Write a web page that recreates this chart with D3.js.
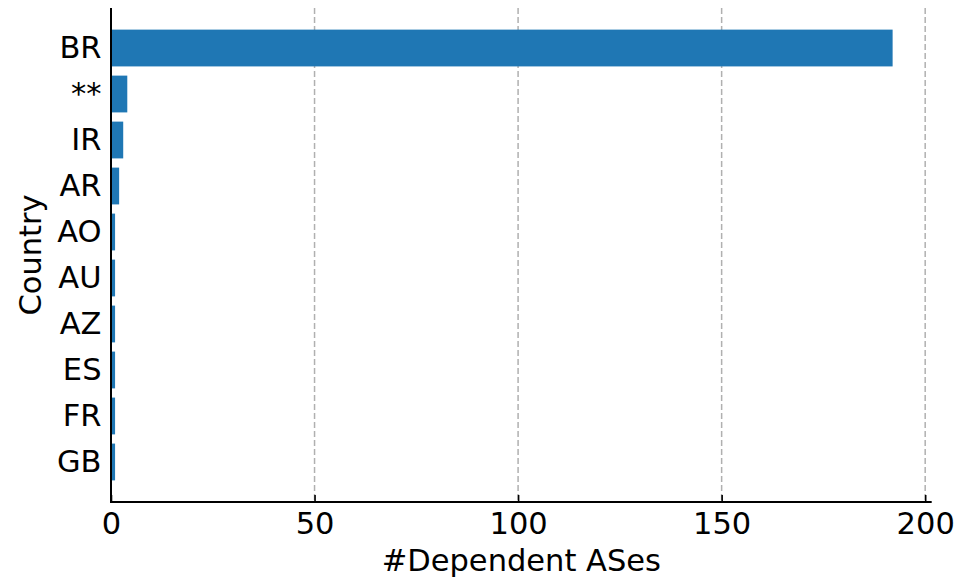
<!DOCTYPE html>
<html>
<head>
<meta charset="utf-8">
<script src="https://cdn.jsdelivr.net/npm/d3@7"></script>
<style>
  html, body { margin: 0; padding: 0; background: #fff; }
  svg text { font-family: "DejaVu Sans", sans-serif; fill: #000; }
</style>
</head>
<body>
<svg id="chart" width="975" height="579"></svg>
<script>
// Countries ranked by number of dependent ASes
const countries = ["BR", "**", "IR", "AR", "AO", "AU", "AZ", "ES", "FR", "GB"];
const dependentASes = [192, 4, 3, 2, 1, 1, 1, 1, 1, 1];
const xTicks = [0, 50, 100, 150, 200];
const xLabel = "#Dependent ASes";
const yLabel = "Country";

const svg = d3.select("#chart");
const plot = { left: 111, right: 931.7, top: 8, bottom: 502 };
const fontSize = 30.5;

const x = d3.scaleLinear()
  .domain([0, d3.max(dependentASes) * 1.05])
  .range([plot.left, plot.right]);

const y = d3.scaleBand()
  .domain(countries)
  .range([plot.top, plot.bottom])
  .paddingInner(0.2)
  .paddingOuter(0.47);

// dashed vertical grid lines
svg.append("g")
  .selectAll("line")
  .data(xTicks.filter(d => d > 0))
  .join("line")
  .attr("x1", d => x(d)).attr("x2", d => x(d))
  .attr("y1", plot.top).attr("y2", plot.bottom)
  .attr("stroke", "#b0b0b0")
  .attr("stroke-width", 1.5)
  .attr("stroke-dasharray", "6,3");

// bars
svg.append("g")
  .selectAll("rect")
  .data(countries.map((c, i) => ({ c, v: dependentASes[i] })))
  .join("rect")
  .attr("x", x(0))
  .attr("y", d => y(d.c))
  .attr("width", d => x(d.v) - x(0))
  .attr("height", y.bandwidth())
  .attr("fill", "#1f77b4");

// x axis: inward ticks
const xAxis = d3.axisBottom(x)
  .tickValues(xTicks)
  .tickFormat(d3.format("d"))
  .tickSizeInner(-7)
  .tickSizeOuter(0)
  .tickPadding(10);

const gx = svg.append("g")
  .attr("transform", `translate(0,${plot.bottom})`)
  .call(xAxis);
gx.select(".domain").remove();
gx.selectAll(".tick line").attr("stroke", "#000").attr("stroke-width", 1.6);
gx.selectAll(".tick text")
  .attr("font-size", fontSize)
  .attr("font-family", "DejaVu Sans")
  .attr("fill", "#000");

// y axis: labels only
const yAxis = d3.axisLeft(y).tickSize(0).tickPadding(9.5);
const gy = svg.append("g")
  .attr("transform", `translate(${plot.left},0)`)
  .call(yAxis);
gy.select(".domain").remove();
gy.selectAll(".tick text")
  .attr("font-size", fontSize)
  .attr("font-family", "DejaVu Sans")
  .attr("fill", "#000");

// spines (left and bottom)
svg.append("line")
  .attr("x1", plot.left).attr("x2", plot.left)
  .attr("y1", plot.top).attr("y2", plot.bottom + 1)
  .attr("stroke", "#000").attr("stroke-width", 2);
svg.append("line")
  .attr("x1", plot.left - 1).attr("x2", plot.right)
  .attr("y1", plot.bottom).attr("y2", plot.bottom)
  .attr("stroke", "#000").attr("stroke-width", 2);

// axis titles
svg.append("text")
  .attr("x", (plot.left + plot.right) / 2)
  .attr("y", 571)
  .attr("text-anchor", "middle")
  .attr("font-size", fontSize)
  .text(xLabel);

svg.append("text")
  .attr("transform", `translate(41,${(plot.top + plot.bottom) / 2}) rotate(-90)`)
  .attr("text-anchor", "middle")
  .attr("font-size", fontSize)
  .text(yLabel);
</script>
</body>
</html>
